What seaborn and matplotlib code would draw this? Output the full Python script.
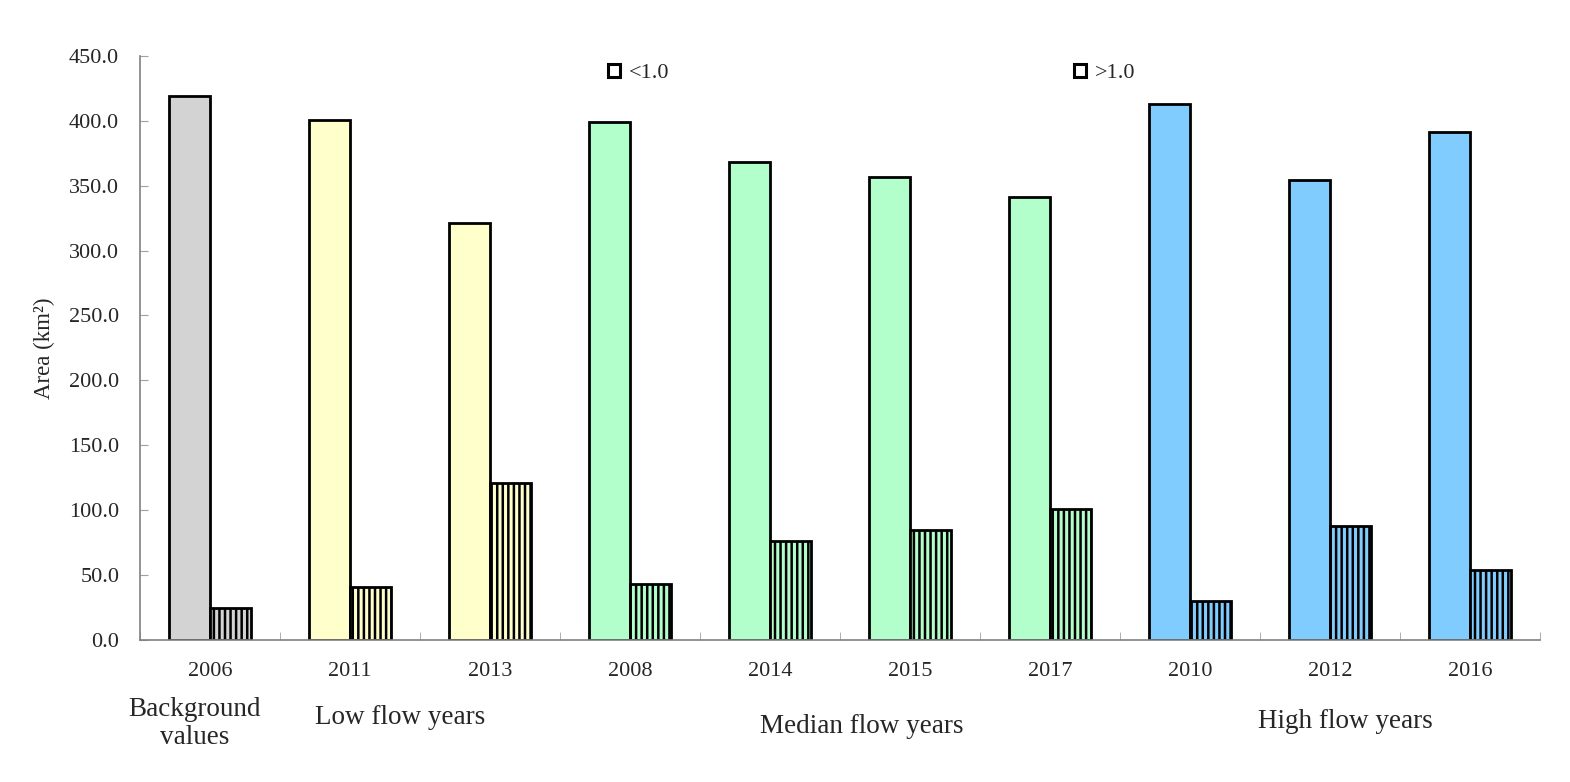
import numpy as np
import pandas as pd
import matplotlib
matplotlib.use("Agg")
import matplotlib.pyplot as plt
from matplotlib.patches import Patch
import seaborn as sns

# Values
YEARS = ["2006", "2011", "2013", "2008", "2014", "2015", "2017", "2010", "2012", "2016"]
GROUP_OF_YEAR = ["bg", "low", "low", "mid", "mid", "mid", "mid", "high", "high", "high"]
AREA_BELOW_1 = [419.0, 401.0, 321.0, 399.0, 368.5, 357.0, 341.5, 413.0, 354.5, 391.0]
AREA_ABOVE_1 = [24.6, 40.2, 120.7, 42.7, 76.0, 84.5, 100.6, 29.6, 87.4, 53.6]
LEVELS = ["<1.0", ">1.0"]

GROUP_COLORS = {"bg": "#D3D3D3", "low": "#FFFFCC", "mid": "#B3FFCC", "high": "#80CCFF"}
GROUP_LABELS = [("Background\nvalues", 0.124, 0.075),
                ("Low flow years", 0.255, 0.083),
                ("Median flow years", 0.549, 0.071),
                ("High flow years", 0.857, 0.077)]


def plot_area_bars():
    df = pd.DataFrame({
        "year": YEARS * 2,
        "level": [LEVELS[0]] * len(YEARS) + [LEVELS[1]] * len(YEARS),
        "area": AREA_BELOW_1 + AREA_ABOVE_1,
    })

    sns.set_style("white")
    plt.rcParams["font.family"] = ["Liberation Serif", "DejaVu Serif"]
    plt.rcParams["hatch.linewidth"] = 1.8
    plt.rcParams["hatch.color"] = "black"

    fig = plt.figure(figsize=(15.7, 7.82), dpi=100)
    ax = fig.add_axes([0.0892, 0.1822, 0.8917, 0.7462])

    sns.barplot(data=df, x="year", y="area", hue="level", order=YEARS,
                hue_order=LEVELS, width=0.58, saturation=1, dodge=True,
                edgecolor="black", linewidth=2, legend=False, ax=ax)

    # colour each pair by its flow group, hatch the >1.0 bars
    for k, cont in enumerate(ax.containers):
        for bar, grp in zip(cont, GROUP_OF_YEAR):
            bar.set_facecolor(GROUP_COLORS[grp])
            bar.set_edgecolor("black")
            if k == 1:
                bar.set_hatch("|||")

    ax.set_xlim(-0.5, len(YEARS) - 0.5)
    ax.set_ylim(0, 450)
    ax.set_yticks(np.arange(0, 451, 50))
    ax.set_yticklabels([f"{v:.1f}" for v in np.arange(0, 451, 50)])
    ax.set_xticks(np.arange(-0.5, len(YEARS), 1), minor=True)

    for side in ["top", "right"]:
        ax.spines[side].set_visible(False)
    for side in ["left", "bottom"]:
        ax.spines[side].set_color("#808080")
        ax.spines[side].set_linewidth(1.2)

    ax.tick_params(axis="y", direction="in", length=6, color="#A0A0A0",
                   labelsize=16, pad=15, left=True)
    ax.tick_params(axis="x", which="major", length=0, labelsize=16, pad=16)
    ax.tick_params(axis="x", which="minor", direction="in", length=6,
                   color="#A0A0A0", bottom=True)

    ax.set_xlabel("")
    ax.set_ylabel("Area (km²)", fontsize=16.5, labelpad=10)

    for text, x, y in GROUP_LABELS:
        fig.text(x, y, text, ha="center", va="center", fontsize=19.5,
                 linespacing=1.15)

    handles = [Patch(facecolor="white", edgecolor="black", linewidth=2.2, label=lv)
               for lv in LEVELS]
    fig.legend(handles=handles, loc="center", bbox_to_anchor=(0.555, 0.906),
               ncol=2, frameon=False, fontsize=16, handlelength=0.55,
               handleheight=0.55, handletextpad=0.4, columnspacing=18.2)

    fig.savefig("out.png", dpi=100)


if __name__ == "__main__":
    plot_area_bars()
